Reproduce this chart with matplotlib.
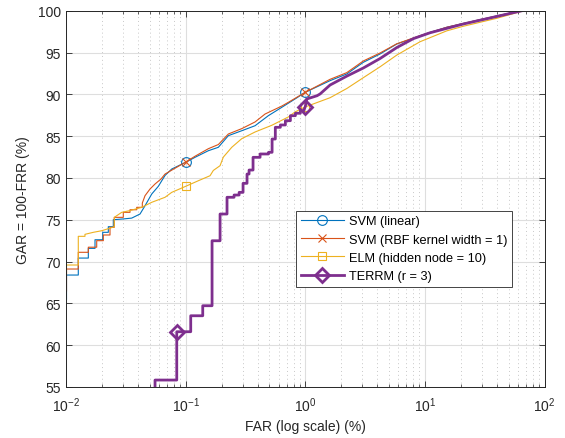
import numpy as np
import matplotlib
matplotlib.use("Agg")
import matplotlib.pyplot as plt
from matplotlib.ticker import LogLocator, FixedLocator, NullFormatter

plt.rcParams['font.family'] = ['Liberation Sans', 'DejaVu Sans']
plt.rcParams['mathtext.fontset'] = 'custom'
plt.rcParams['mathtext.rm'] = 'Liberation Sans'
plt.rcParams['axes.unicode_minus'] = False

# FAR (%) / GAR (%) vertices
svm_lin_far = [0.0101, 0.0101, 0.01267, 0.01267, 0.01537, 0.01537, 0.01748, 0.01748,
               0.02027, 0.02027, 0.02258, 0.02258, 0.02486, 0.02486, 0.03013, 0.03542,
               0.04157, 0.04577, 0.05207, 0.05911, 0.06727, 0.07652, 0.1, 0.1198,
               0.1548, 0.1877, 0.2275, 0.2944, 0.3805, 0.4914, 0.6362, 0.8216, 1.0,
               1.612, 2.223, 3.06, 4.22, 5.82, 8.02, 10.04, 15.24, 28.9, 62.5]
svm_lin_gar = [65.5, 68.39, 68.39, 70.42, 70.42, 71.58, 71.58, 72.61,
               72.61, 73.5, 73.5, 74.17, 74.17, 75.01, 75.1, 75.2,
               75.69, 76.68, 78.08, 79.0, 80.3, 81.07, 81.87, 82.47,
               83.26, 83.67, 85.06, 85.65, 86.25, 87.45, 88.45, 89.45, 90.25,
               91.64, 92.44, 93.84, 94.83, 96.03, 96.71, 97.22, 98.03, 98.94, 100.0]

svm_rbf_far = [0.0101, 0.0101, 0.01267, 0.01267, 0.01537, 0.01537, 0.01806, 0.01806,
               0.02051, 0.02051, 0.02333, 0.02333, 0.02534, 0.02534, 0.03013, 0.03013,
               0.03428, 0.03428, 0.03901, 0.03901, 0.04345, 0.04345, 0.04577, 0.05039,
               0.0555, 0.06229, 0.06727, 0.1, 0.1198, 0.1548, 0.1877, 0.2275, 0.2944,
               0.3805, 0.4613, 0.6362, 0.7222, 1.0, 1.612, 2.223, 3.06, 4.22, 5.82,
               8.02, 10.04, 15.24, 28.9, 63.5]
svm_rbf_gar = [66.5, 69.11, 69.11, 71.11, 71.11, 71.72, 71.72, 72.5,
               72.5, 73.18, 73.18, 74.1, 74.1, 75.29, 75.29, 75.89,
               75.89, 76.2, 76.2, 76.49, 76.49, 77.0, 77.88, 78.68,
               79.28, 79.88, 80.47, 81.9, 82.6, 83.5, 84.0, 85.26, 85.9,
               86.7, 87.65, 88.6, 89.05, 90.25, 91.8, 92.6, 94.0, 94.95, 96.05,
               96.75, 97.22, 98.03, 98.94, 100.0]

elm_far = [0.0101, 0.0101, 0.01267, 0.01267, 0.01441, 0.01441, 0.01692, 0.01989,
           0.02333, 0.02534, 0.02534, 0.02922, 0.03428, 0.04296, 0.05207, 0.06727,
           0.07652, 0.1, 0.1277, 0.16, 0.1704, 0.194, 0.2067, 0.243, 0.2944,
           0.3805, 0.5247, 0.7222, 0.8216, 1.0, 1.612, 2.223, 3.06, 4.22, 5.82,
           9.12, 15.24, 20.99, 39.9, 66.6]
elm_gar = [68.6, 69.59, 69.59, 73.02, 73.02, 73.26, 73.5, 73.69,
           74.0, 74.17, 75.29, 75.89, 76.1, 76.49, 77.09, 77.69,
           78.28, 79.0, 79.67, 80.27, 80.9, 81.47, 82.5, 83.67, 84.7,
           85.5, 86.3, 87.3, 87.9, 88.5, 89.6, 90.7, 92.0, 93.3, 94.7,
           96.3, 97.6, 98.15, 99.1, 100.0]

terrm_far = [0.0555, 0.0555, 0.0843, 0.0843, 0.1103, 0.1103, 0.139, 0.139,
             0.1663, 0.1663, 0.194, 0.194, 0.2218, 0.2218, 0.254, 0.254,
             0.280, 0.280, 0.302, 0.302, 0.326, 0.326, 0.339, 0.339,
             0.366, 0.366, 0.419, 0.419, 0.493, 0.493, 0.528, 0.528,
             0.562, 0.562, 0.619, 0.619, 0.682, 0.682, 0.751, 0.751,
             0.827, 0.827, 0.910, 0.910, 0.97, 1.0, 1.03, 1.14, 1.255, 1.33,
             1.612, 2.223, 3.06, 4.22, 5.82, 8.02, 11.05, 20.99, 39.9, 64.6]
terrm_gar = [54.0, 55.83, 55.83, 61.61, 61.61, 63.52, 63.52, 64.72,
             64.72, 72.49, 72.49, 75.69, 75.69, 77.69, 77.69, 77.96,
             77.96, 78.28, 78.28, 79.36, 79.36, 80.47, 80.47, 80.95,
             80.95, 82.47, 82.47, 82.87, 82.87, 83.07, 83.07, 84.66,
             84.66, 86.06, 86.06, 86.34, 86.34, 86.85, 86.85, 87.45,
             87.45, 87.74, 87.74, 88.05, 88.05, 88.53, 89.45, 89.65, 89.84, 90.05,
             91.12, 92.18, 93.16, 94.29, 95.6, 96.67, 97.37, 98.42, 99.32, 100.0]

svm_marks = [0.1, 1.0]
elm_marks = [0.1, 1.0]
terrm_marks = [0.0843, 1.0]

labels = ['SVM (linear)', 'SVM (RBF kernel width = 1)',
          'ELM (hidden node = 10)', 'TERRM (r = 3)']


def mark_idx(far, gar, at):
    far = np.asarray(far)
    gar = np.asarray(gar)
    out = []
    for a in at:
        d = np.abs(np.log10(far) - np.log10(a))
        cand = np.where(d == d.min())[0]
        out.append(int(cand[np.argmax(gar[cand])]))
    return out


fig = plt.figure(figsize=(5.65, 4.39), dpi=100)
ax = fig.add_axes([0.1168, 0.1162, 0.847, 0.857])

ax.plot(svm_lin_far, svm_lin_gar, color='#0072BD', lw=0.8, marker='o', ms=7,
        mfc='none', mew=0.8, markevery=mark_idx(svm_lin_far, svm_lin_gar, svm_marks),
        label=labels[0])
ax.plot(svm_rbf_far, svm_rbf_gar, color='#D95319', lw=0.8, marker='x', ms=6,
        mew=0.8, markevery=mark_idx(svm_rbf_far, svm_rbf_gar, svm_marks),
        label=labels[1])
ax.plot(elm_far, elm_gar, color='#EDB120', lw=0.8, marker='s', ms=6,
        mfc='none', mew=0.8, markevery=mark_idx(elm_far, elm_gar, elm_marks),
        label=labels[2])
ax.plot(terrm_far, terrm_gar, color='#7E2F8E', lw=2.0, marker='D', ms=7,
        mfc='none', mew=2.0, markevery=mark_idx(terrm_far, terrm_gar, terrm_marks),
        label=labels[3])

ax.set_xscale('log')
ax.set_xlim(0.01, 100)
ax.set_ylim(55, 100)
ax.yaxis.set_major_locator(FixedLocator(np.arange(55, 101, 5)))
ax.xaxis.set_major_locator(LogLocator(base=10, numticks=10))
ax.xaxis.set_minor_locator(LogLocator(base=10, subs=np.arange(2, 10), numticks=20))
ax.xaxis.set_minor_formatter(NullFormatter())

ax.grid(True, which='major', color='#dedede', lw=0.8)
ax.grid(True, which='minor', axis='x', color='#c8c8c8', lw=0.7, ls=(0, (1, 3)))
ax.set_axisbelow(True)

for s in ax.spines.values():
    s.set_color('#262626')
    s.set_linewidth(0.7)
ax.tick_params(which='both', direction='in', top=True, right=True,
               colors='#262626', labelsize=10)
ax.tick_params(which='major', length=4, width=0.6)
ax.tick_params(which='minor', length=2.5, width=0.5)
ax.tick_params(axis='x', pad=6)

ax.set_xlabel('FAR (log scale) (%)', fontsize=10, color='#262626', labelpad=4)
ax.set_ylabel('GAR = 100-FRR (%)', fontsize=10, color='#262626', labelpad=6)

leg = ax.legend(loc='upper left', bbox_to_anchor=(0.4807, 0.4686), borderaxespad=0,
                fontsize=9.2, fancybox=False, framealpha=1, edgecolor='#262626',
                handlelength=3.4, handletextpad=0.4, labelspacing=0.5,
                borderpad=0.35, numpoints=1)
leg.get_frame().set_linewidth(0.6)

fig.savefig('out.png', dpi=100)
